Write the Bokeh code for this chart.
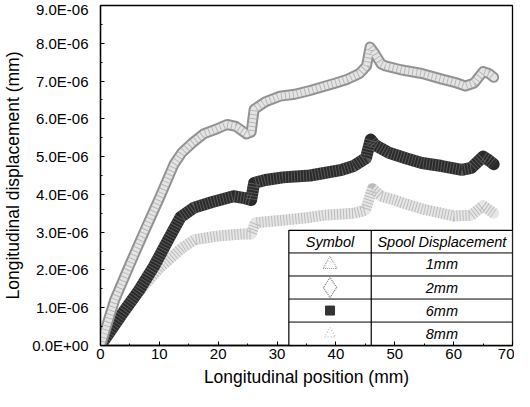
from bokeh.plotting import figure
from bokeh.models import Range1d, FixedTicker, CustomJSTickFormatter
from bokeh.core.properties import value
from bokeh.embed import file_html
from bokeh.resources import INLINE

# ---- data (x in mm, displacement in units of 1e-6 mm) ----
pos_top = [0, 2.4, 5, 7.4, 10, 12.5, 13.8, 15.5, 17.5, 20, 21.5, 23, 24.8, 25.6, 26.1, 28, 30.5, 33, 35.6, 37.8, 40, 42, 44, 45.2, 45.8, 46.5, 47.7, 48.4, 51, 54.6, 58, 60.5, 62, 63.5, 65, 66, 66.8]
disp_2mm = [0, 1.2, 2.15, 3.0, 3.9, 4.8, 5.1, 5.35, 5.6, 5.75, 5.85, 5.8, 5.6, 5.65, 6.25, 6.45, 6.6, 6.65, 6.75, 6.85, 6.95, 7.05, 7.2, 7.4, 7.9, 7.75, 7.45, 7.4, 7.3, 7.2, 7.05, 6.95, 6.87, 6.95, 7.25, 7.2, 7.1]
disp_1mm = [0, 1.2, 2.15, 3.0, 3.9, 4.8, 5.1, 5.35, 5.6, 5.75, 5.85, 5.8, 5.6, 5.65, 6.25, 6.45, 6.6, 6.65, 6.75, 6.85, 6.95, 7.05, 7.2, 7.4, 7.9, 7.75, 7.45, 7.4, 7.3, 7.2, 7.05, 6.95, 6.87, 6.95, 7.25, 7.2, 7.1]

pos_6mm = [0, 3.5, 6.5, 9.1, 11.5, 13.6, 15.9, 19, 22.6, 24.5, 25.6, 26.1, 28, 31, 35.6, 37.8, 41, 43, 45.1, 45.9, 46.7, 49, 52, 54.6, 58, 61.4, 63, 65, 66, 66.8]
disp_6mm = [0, 0.8, 1.45, 2.1, 2.8, 3.4, 3.65, 3.8, 3.95, 3.9, 3.85, 4.3, 4.38, 4.45, 4.5, 4.56, 4.65, 4.75, 4.96, 5.45, 5.3, 5.1, 4.95, 4.83, 4.75, 4.65, 4.7, 5.0, 4.9, 4.8]

pos_8mm = [0, 5, 10, 14, 16, 20, 24, 25.6, 26.3, 30, 35, 38, 43, 45, 46.2, 47.7, 50, 51.8, 55, 60, 63, 65, 66.8]
disp_8mm = [0, 1.15, 2.05, 2.6, 2.8, 2.9, 2.95, 2.95, 3.25, 3.3, 3.38, 3.45, 3.5, 3.58, 4.15, 3.95, 3.85, 3.75, 3.6, 3.43, 3.45, 3.7, 3.5]

SCALE = 1e-6
y_ticks = [0, 1, 2, 3, 4, 5, 6, 7, 8, 9]
y_minor = [0.5, 1.5, 2.5, 3.5, 4.5, 5.5, 6.5, 7.5, 8.5]
x_ticks = [0, 10, 20, 30, 40, 50, 60, 70]
x_minor = [5, 15, 25, 35, 45, 55, 65]
legend_labels = ["1mm", "2mm", "6mm", "8mm"]
legend_head = ["Symbol", "Spool Displacement"]

def sc(vals):
    return [v * SCALE for v in vals]

FONT = "Liberation Sans"

p = figure(width=514, height=391, output_backend="svg", toolbar_location=None,
           x_range=Range1d(0, 70), y_range=Range1d(0, 9 * SCALE),
           min_border_left=95, min_border_right=2, min_border_top=5, min_border_bottom=46)
p.background_fill_color = "white"
p.border_fill_color = "white"
p.outline_line_color = "black"
p.outline_line_width = 1.3
p.grid.visible = False

# curves
p.line(pos_8mm, sc(disp_8mm), line_width=11, color="#e6e6e6", line_join="round", line_cap="round")
p.line(pos_8mm, sc(disp_8mm), line_width=11, color="#a4a4a4", line_dash="1 2", line_join="round", alpha=0.65)

p.line(pos_6mm, sc(disp_6mm), line_width=12, color="#2a2a2a", line_join="round", line_cap="round")
p.line(pos_6mm, sc(disp_6mm), line_width=12, color="#ffffff", line_dash="1 2", line_join="round", alpha=0.22)

p.line(pos_top, sc(disp_2mm), line_width=11, color="#929292", line_join="round", line_cap="round")
p.line(pos_top, sc(disp_1mm), line_width=7, color="#e4e4e4", line_join="round", line_cap="round")
p.line(pos_top, sc(disp_1mm), line_width=7, color="#9a9a9a", line_dash="1 3", line_join="round", alpha=0.6)

# legend table (layout constants)
tl, tm, tr = 32.0, 46.0, 70.0
row_edges = [3.05, 2.45, 1.84, 1.23, 0.62, 0.0]
p.quad(left=[tl], right=[tr], top=[row_edges[0] * SCALE], bottom=[0], fill_color="white",
       line_color="black", line_width=1.2)
p.segment(x0=[tm], y0=[0], x1=[tm], y1=[row_edges[0] * SCALE], line_color="black", line_width=1.2)
p.segment(x0=[tl] * 4, y0=sc(row_edges[1:5]), x1=[tr] * 4, y1=sc(row_edges[1:5]),
          line_color="black", line_width=1.0)

centers = [(row_edges[i] + row_edges[i + 1]) / 2 * SCALE for i in range(5)]
p.text(x=[(tl + tm) / 2, (tm + tr) / 2], y=[centers[0]] * 2, text=legend_head,
       text_font=value(FONT), text_font_style="italic", text_font_size="14.5px",
       text_align="center", text_baseline="middle", text_color="black")
p.text(x=[(tm + tr) / 2] * 4, y=centers[1:], text=legend_labels,
       text_font=value(FONT), text_font_style="italic", text_font_size="14.5px",
       text_align="center", text_baseline="middle", text_color="black")
sx = (tl + tm) / 2
p.scatter([sx], [centers[1]], marker="triangle", size=14, fill_color=None, line_color="#9a9a9a",
          line_dash="1 1", line_width=1.2)
p.scatter([sx], [centers[2]], marker="diamond", size=20, fill_color=None, line_color="#777777",
          line_dash="1 1", line_width=1.2)
p.scatter([sx], [centers[3]], marker="square", size=9, fill_color="#333333", line_color="#333333")
p.scatter([sx], [centers[4]], marker="triangle", size=11, fill_color=None, line_color="#bbbbbb",
          line_dash="1 2", line_width=1.2)

# axes
fmt = CustomJSTickFormatter(code="""
if (Math.abs(tick) < 1e-12) return "0.0E+00";
var s = tick.toExponential(1).toUpperCase();
var parts = s.split("E");
var e = parseInt(parts[1]);
var a = Math.abs(e);
return parts[0] + "E" + (e < 0 ? "-" : "+") + (a < 10 ? "0" + a : a);
""")
p.yaxis.ticker = FixedTicker(ticks=sc(y_ticks), minor_ticks=sc(y_minor))
p.yaxis.formatter = fmt
p.xaxis.ticker = FixedTicker(ticks=x_ticks, minor_ticks=x_minor)

for ax in (p.xaxis, p.yaxis):
    ax.axis_line_color = "black"
    ax.axis_line_width = 1.3
    ax.major_tick_in = 4
    ax.major_tick_out = 0
    ax.minor_tick_in = 2
    ax.minor_tick_out = 0
    ax.major_label_text_font = FONT
    ax.major_label_text_color = "black"
    ax.axis_label_text_font = FONT
    ax.axis_label_text_font_style = "normal"
    ax.axis_label_text_color = "black"

p.xaxis.major_label_text_font_size = "15px"
p.yaxis.major_label_text_font_size = "15px"
p.xaxis.axis_label_text_font_size = "17.5px"
p.yaxis.axis_label_text_font_size = "17.5px"
p.xaxis.axis_label = "Longitudinal position (mm)"
p.yaxis.axis_label = "Longitudinal displacement (mm)"
p.xaxis.major_label_standoff = 3
p.xaxis.axis_label_standoff = 5
p.yaxis.major_label_standoff = 12
p.yaxis.axis_label_standoff = 6

open("out.html", "w").write(file_html(p, INLINE))
